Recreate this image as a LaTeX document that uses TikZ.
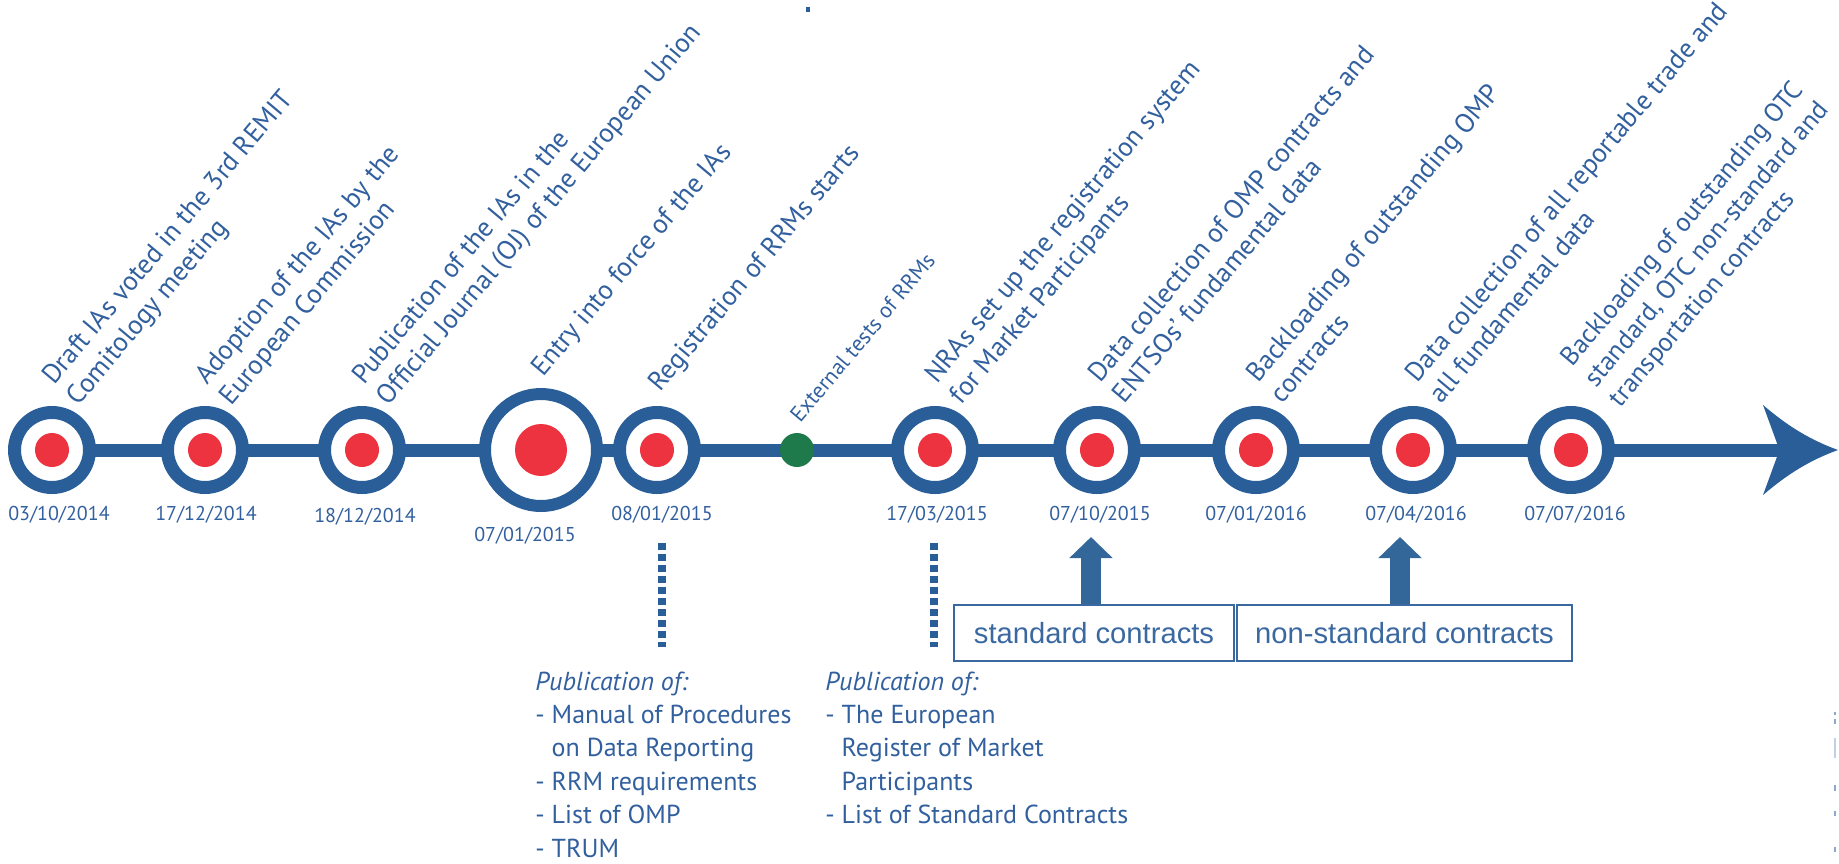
\documentclass[tikz,border=0pt]{standalone}
\usepackage{fontspec}
\setmainfont{PT Sans}
\newfontfamily\arialfont{Liberation Sans}
\usetikzlibrary{arrows.meta}
\definecolor{ringblue}{RGB}{41,94,152}
\definecolor{txtblue}{RGB}{50,96,158}
\definecolor{dotred}{RGB}{237,50,64}
\definecolor{dotgreen}{RGB}{31,122,75}
\definecolor{arrblue}{RGB}{51,102,153}
\definecolor{boxblue}{RGB}{58,104,160}
\begin{document}
\begin{tikzpicture}[x=0.5pt,y=-0.5pt,
  ring/.style={circle,draw=ringblue,line width=6.5pt,fill=white,minimum size=37.5pt,inner sep=0pt},
  bigring/.style={circle,draw=ringblue,line width=6pt,fill=white,minimum size=56pt,inner sep=0pt},
  reddot/.style={circle,fill=dotred,minimum size=17pt,inner sep=0pt},
  bigdot/.style={circle,fill=dotred,minimum size=26pt,inner sep=0pt},
  greendot/.style={circle,fill=dotgreen,minimum size=17pt,inner sep=0pt},
  date/.style={anchor=base,text=txtblue,font=\fontsize{10}{12}\selectfont,inner sep=0pt},
  lbl/.style={anchor=base west,rotate=50,text=txtblue,font=\fontsize{13.5}{16}\selectfont,inner sep=0pt},
  smalllbl/.style={lbl,font=\fontsize{11}{13}\selectfont},
  pub/.style={anchor=base west,text=txtblue,font=\fontsize{13}{16.7}\selectfont,inner sep=0pt},
  cbox/.style={draw=boxblue,line width=0.75pt,text=boxblue,font=\arialfont\fontsize{14.6}{17}\selectfont,minimum height=28pt,inner sep=0pt},
  uparrow/.style={arrblue,line width=10pt,-{Triangle[length=10.5pt,width=21pt]}},
  dotline/.style={ringblue,line width=4pt,dash pattern=on 3.5pt off 2pt},
  stray/.style={fill=txtblue!55}
]
\useasboundingbox (0,0) rectangle (1839,863);

% axis
\coordinate (axstart) at (52,450);
\coordinate (axend) at (1778,450);
\draw[ringblue,line width=6.5pt] (axstart) -- (axend);
\fill[ringblue] (1838,450) .. controls (1805,438) and (1783,422) .. (1763,405)
  -- (1778,446) -- (1778,454) -- (1763,495)
  .. controls (1783,478) and (1805,462) .. (1838,450) -- cycle;

% milestones
\node[ring] (c1) at (52,450) {};   \node[reddot] (r1) at (c1) {};
\node[ring] (c2) at (205,450) {};  \node[reddot] (r2) at (c2) {};
\node[ring] (c3) at (362,450) {};  \node[reddot] (r3) at (c3) {};
\node[bigring] (c4) at (541,450) {}; \node[bigdot] (r4) at (c4) {};
\node[ring] (c5) at (657,450) {};  \node[reddot] (r5) at (c5) {};
\node[greendot] (g1) at (797,450) {};
\node[ring] (c6) at (935,450) {};  \node[reddot] (r6) at (c6) {};
\node[ring] (c7) at (1097,450) {}; \node[reddot] (r7) at (c7) {};
\node[ring] (c8) at (1256,450) {}; \node[reddot] (r8) at (c8) {};
\node[ring] (c9) at (1413,450) {}; \node[reddot] (r9) at (c9) {};
\node[ring] (c10) at (1571,450) {}; \node[reddot] (r10) at (c10) {};

% dates
\node[date] (d1) at (59,520) {03/10/2014};
\node[date] (d2) at (206,520) {17/12/2014};
\node[date] (d3) at (365,522) {18/12/2014};
\node[date] (d4) at (525,541) {07/01/2015};
\node[date] (d5) at (662,520) {08/01/2015};
\node[date] (d6) at (937,520) {17/03/2015};
\node[date] (d7) at (1100,520) {07/10/2015};
\node[date] (d8) at (1256,520) {07/01/2016};
\node[date] (d9) at (1416,520) {07/04/2016};
\node[date] (d10) at (1575,520) {07/07/2016};

% rotated labels
\node[lbl] (t1) at (54,386) {\vtop{\hbox{Draft IAs voted in the 3rd REMIT}\hbox{Comitology meeting}}};
\node[lbl] (t2) at (207,386) {\vtop{\hbox{Adoption of the IAs by the}\hbox{European Commission}}};
\node[lbl] (t3) at (364,386) {\vtop{\hbox{Publication of the IAs in the}\hbox{Official Journal (OJ) of the European Union}}};
\node[lbl] (t4) at (543,378) {Entry into force of the IAs};
\node[lbl] (t5) at (660,393) {Registration of RRMs starts};
\node[smalllbl] (t6) at (800,424) {External tests of RRMs};
\node[lbl] (t7) at (937,385) {\vtop{\hbox{NRAs set up the registration system}\hbox{for Market Participants}}};
\node[lbl] (t8) at (1100,384) {\vtop{\hbox{Data collection of OMP contracts and}\hbox{ENTSOs’ fundamental data}}};
\node[lbl] (t9) at (1258,384) {\vtop{\hbox{Backloading of outstanding OMP}\hbox{contracts}}};
\node[lbl] (t10) at (1417,384) {\vtop{\hbox{Data collection of all reportable trade and}\hbox{all fundamental data}}};
\node[lbl,font=\fontsize{13.2}{15.8}\selectfont] (t11) at (1572,368) {\vtop{\hbox{Backloading of outstanding OTC}\hbox{standard, OTC non-standard and}\hbox{transportation contracts}}};

% dotted leaders
\coordinate (p1a) at (662,543); \coordinate (p1b) at (662,647);
\coordinate (p2a) at (934,543); \coordinate (p2b) at (934,647);
\draw[dotline] (p1a) -- (p1b);
\draw[dotline] (p2a) -- (p2b);

% publication texts
\node[pub] (pub1) at (535,690) {\vtop{\hbox{\itshape Publication of:}\hbox{- Manual of Procedures}\hbox{\hphantom{- }on Data Reporting}\hbox{- RRM requirements}\hbox{- List of OMP}\hbox{- TRUM}}};
\node[pub] (pub2) at (825,690) {\vtop{\hbox{\itshape Publication of:}\hbox{- The European}\hbox{\hphantom{- }Register of Market}\hbox{\hphantom{- }Participants}\hbox{- List of Standard Contracts}}};

% contract boxes
\node[cbox,minimum width=140pt] (std) at (1094,633) {standard contracts};
\node[cbox,minimum width=167.5pt] (nstd) at (1404.5,633) {non-standard contracts};
\coordinate (a1) at (1091,537);
\coordinate (a2) at (1400,537);
\draw[uparrow] (a1 |- std.north) -- (a1);
\draw[uparrow] (a2 |- nstd.north) -- (a2);

% stray marks
\fill[ringblue] (806,7) rectangle (810,12);
\fill[stray] (1834,712) rectangle (1836,715);
\fill[stray] (1834,719) rectangle (1836,724);
\fill[txtblue!30] (1834,738) rectangle (1836,758);
\fill[stray] (1834,785) rectangle (1836,791);
\fill[stray] (1834,811) rectangle (1836,816);
\fill[stray] (1834,847) rectangle (1836,852);
\end{tikzpicture}
\end{document}
